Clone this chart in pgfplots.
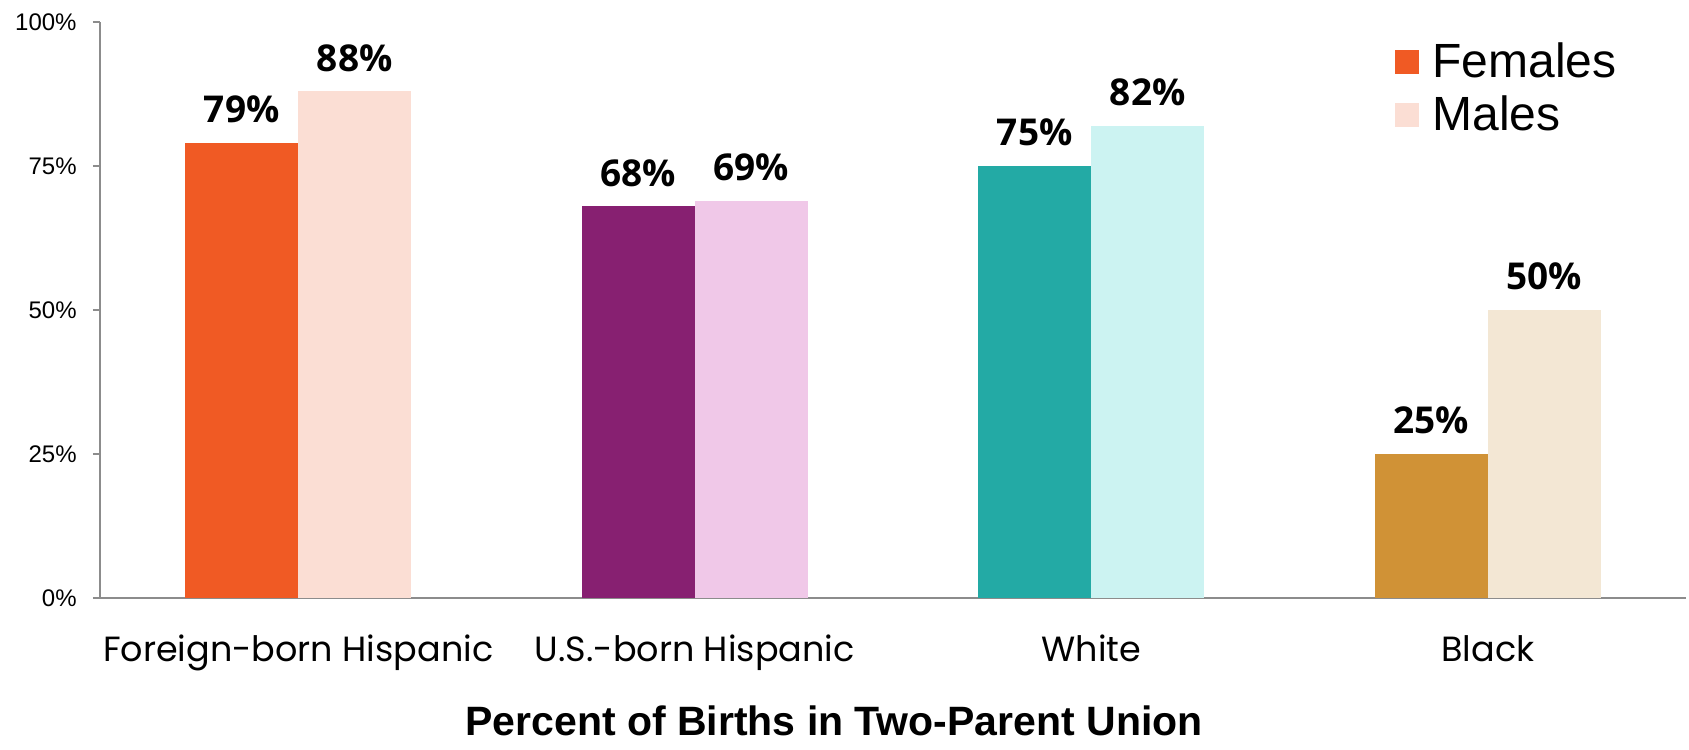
\documentclass[border=0pt]{standalone}
\usepackage{pgfplots}
\pgfplotsset{compat=1.18}
\usepackage{fontspec}
\setmainfont{Liberation Sans}
\newfontfamily\catfont{Poppins}
\newfontfamily\dlfont{Open Sans}
\definecolor{fbF}{HTML}{F05A24}
\definecolor{fbM}{HTML}{FBDED4}
\definecolor{usF}{HTML}{872071}
\definecolor{usM}{HTML}{F0C8E8}
\definecolor{whF}{HTML}{23AAA5}
\definecolor{whM}{HTML}{CCF3F2}
\definecolor{blF}{HTML}{D09236}
\definecolor{blM}{HTML}{F3E7D4}
\definecolor{axisgray}{HTML}{8C8C8C}
\begin{document}
\begin{tikzpicture}
\path[use as bounding box] (-50pt,-75.5pt) rectangle (794.5pt,299pt);
\begin{axis}[
  scale only axis, width=793pt, height=288pt,
  ybar, bar width=0.285,
  xmin=-0.5, xmax=3.5, ymin=0, ymax=100,
  clip=false,
  axis x line=bottom, axis y line=left,
  axis line style={-, draw=axisgray, line width=1pt},
  xtick={0,1,2,3},
  xticklabels={Foreign-born Hispanic, U.S.-born Hispanic, White, Black},
  xtick style={draw=none},
  ytick={0,25,50,75,100},
  yticklabel={\pgfmathprintnumber{\tick}\%},
  /pgf/number format/assume math mode=true,
  ytick style={draw=axisgray, line width=1pt},
  tick align=outside, major tick length=3.5pt,
  xticklabel style={font=\catfont\fontsize{17.5}{17.5}\selectfont, anchor=base, yshift=-28pt},
  yticklabel style={font=\fontsize{12}{12}\selectfont, anchor=east, inner sep=0pt, xshift=-8pt},
  nodes near coords={\pgfmathprintnumber{\pgfplotspointmeta}\%},
  every node near coord/.append style={font=\dlfont\bfseries\fontsize{18.5}{18.5}\selectfont, anchor=base, inner sep=0pt, yshift=10pt, text=black},
  legend style={at={(0.816,0.967)}, anchor=north west, draw=none, fill=none, inner sep=0pt,
    font=\fontsize{24}{24}\selectfont, row sep=8.5pt, column sep=0pt,
    nodes={inner sep=0pt, text height=18pt, text depth=0pt}},
  legend cell align=left,
]
\addplot[fill=fbF, draw=none, bar shift=-0.1425,
  legend image code/.code={\fill[fbF] (0pt,-7.5pt) rectangle (12pt,4.5pt); \path (19pt,0pt);}]
  coordinates {(0,79)};
\addlegendentry{Females}
\addplot[fill=fbM, draw=none, bar shift=0.1425,
  legend image code/.code={\fill[fbM] (0pt,-7.5pt) rectangle (12pt,4.5pt); \path (19pt,0pt);}]
  coordinates {(0,88)};
\addlegendentry{Males}
\addplot[fill=usF, draw=none, bar shift=-0.1425, forget plot] coordinates {(1,68)};
\addplot[fill=usM, draw=none, bar shift=0.1425, forget plot] coordinates {(1,69)};
\addplot[fill=whF, draw=none, bar shift=-0.1425, forget plot] coordinates {(2,75)};
\addplot[fill=whM, draw=none, bar shift=0.1425, forget plot] coordinates {(2,82)};
\addplot[fill=blF, draw=none, bar shift=-0.1425, forget plot] coordinates {(3,25)};
\addplot[fill=blM, draw=none, bar shift=0.1425, forget plot] coordinates {(3,50)};
\end{axis}
\node[font=\bfseries\fontsize{20.5}{20.5}\selectfont, anchor=base] at (367pt,-68.5pt) {Percent of Births in Two-Parent Union};
\end{tikzpicture}
\end{document}
